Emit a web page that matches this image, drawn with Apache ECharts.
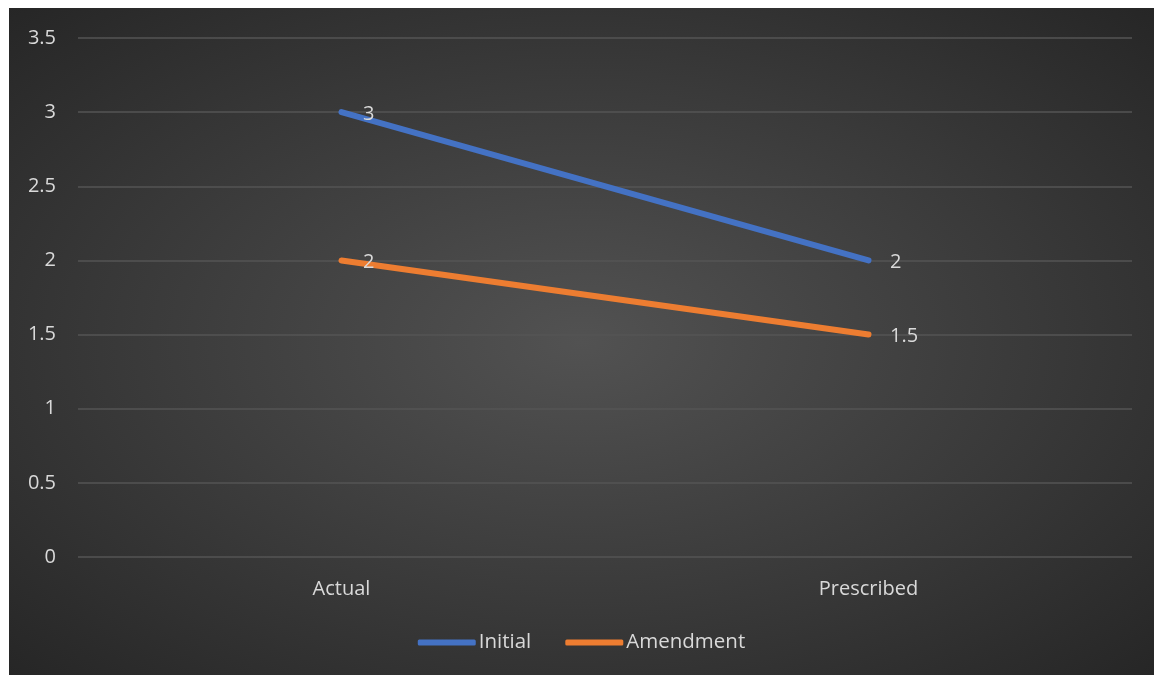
<!DOCTYPE html>
<html lang="en">
<head>
    <meta charset="UTF-8">
    <title>Initial vs Amendment</title>
    <script src="https://cdn.jsdelivr.net/npm/echarts@6/dist/echarts.min.js"></script>
    <style>
        body { margin: 0; background: #ffffff; }
        #main {
            position: absolute; left: 9px; top: 8px;
            width: 1145px; height: 667px;
            background: radial-gradient(ellipse at center, #525252 0%, #3a3a3a 55%, #262626 100%);
        }
    </style>
</head>
<body>
<div id="main"></div>
<script>
    var categories = ['Actual', 'Prescribed'];
    var initialData = [3, 2];
    var amendmentData = [2, 1.5];

    var textColor = '#d9d9d9';
    var fontName = 'Open Sans';

    var chartDom = document.getElementById('main');
    var myChart = echarts.init(chartDom);
    var option;

    function lineSeries(name, data, color) {
        return {
            name: name,
            type: 'line',
            data: data,
            symbol: 'circle',
            symbolSize: 1,
            lineStyle: { color: color, width: 6, cap: 'round' },
            itemStyle: { color: color },
            label: {
                show: true,
                position: 'right',
                distance: 21,
                offset: [0, 2],
                color: textColor,
                fontSize: 20,
                fontFamily: fontName
            }
        };
    }

    option = {
        backgroundColor: 'transparent',
        animation: false,
        grid: { left: 69, right: 22, top: 30, bottom: 118 },
        legend: {
            bottom: 17,
            left: 'center',
            icon: 'roundRect',
            itemWidth: 58,
            itemHeight: 6,
            itemGap: 34,
            textStyle: { color: textColor, fontSize: 20.5, fontFamily: fontName, padding: [0, 0, 0, -2] },
            data: ['Initial', 'Amendment']
        },
        xAxis: {
            type: 'category',
            data: categories,
            axisLine: { show: false },
            axisTick: { show: false },
            axisLabel: { color: textColor, fontSize: 20, fontFamily: fontName, margin: 22 }
        },
        yAxis: {
            type: 'value',
            min: 0,
            max: 3.5,
            interval: 0.5,
            axisLine: { show: false },
            axisTick: { show: false },
            splitLine: { lineStyle: { color: '#545454', width: 1.5 } },
            axisLabel: { color: textColor, fontSize: 20, fontFamily: fontName, margin: 22 }
        },
        series: [
            lineSeries('Initial', initialData, '#4472c4'),
            lineSeries('Amendment', amendmentData, '#ed7d31')
        ]
    };
    option && myChart.setOption(option);
</script>
</body>
</html>
